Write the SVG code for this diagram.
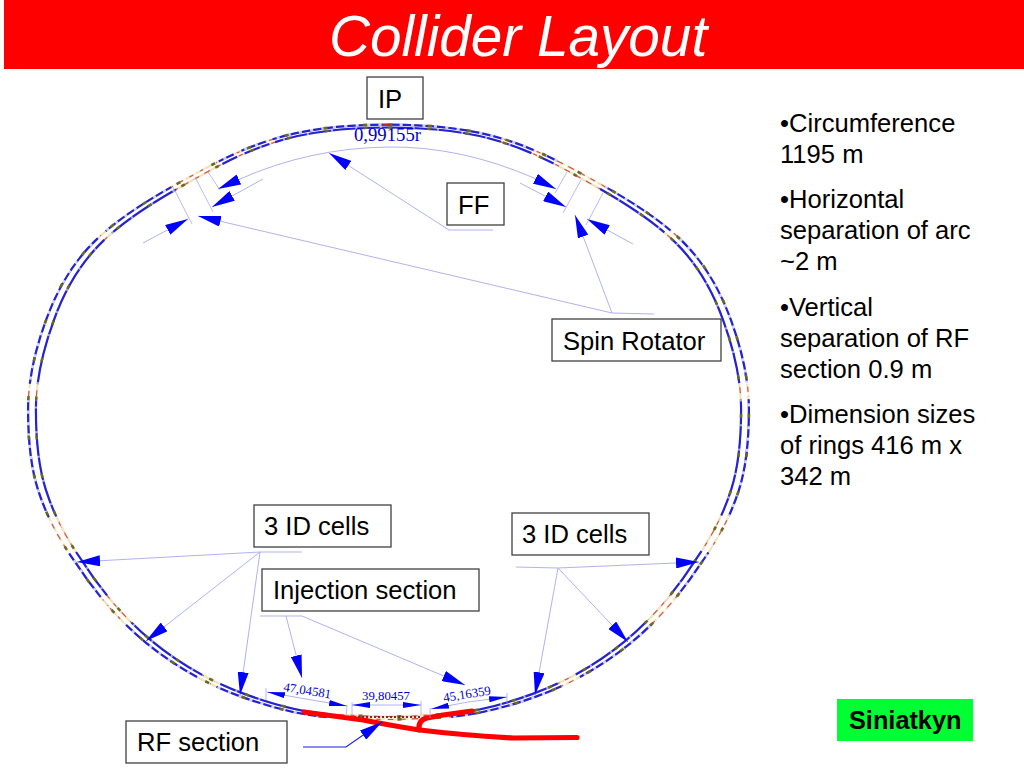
<svg xmlns="http://www.w3.org/2000/svg" xmlns:xlink="http://www.w3.org/1999/xlink" width="1024" height="768" viewBox="0 0 1024 768">
<style>
.box{fill:#fff;stroke:#404040;stroke-width:1.3}
.lbl{font-family:"Liberation Sans",Arial,sans-serif;font-size:25.6px;fill:#000}
.li{font-family:"Liberation Sans",Arial,sans-serif;font-size:25.6px;fill:#000}
.dim{font-family:"Liberation Serif","Times New Roman",serif;font-size:12.8px;fill:#0000cc}
.c{fill:none;stroke:#a8a8ee;stroke-width:.9}
.t{fill:none;stroke:#a8a8ee;stroke-width:.8}
.a{marker-end:url(#ah)}
.s{marker-end:url(#as)}
.base{fill:none;stroke:#ece6b8;stroke-width:2.2}
.red{fill:none;stroke:#d84a4a;stroke-width:1.1;stroke-dasharray:3 3}
.blue{fill:none;stroke:#2222d8;stroke-width:2.2;stroke-dasharray:56 3 13 4 8 26 38 5 79 8 58 20 26 18 43 10 55 60 55 10 43 18 26 20 58 8 79 5 38 26 8 4 13 3 56 0}
.dot{fill:none;stroke:#6a6a20;stroke-width:2.6;stroke-dasharray:2 17}
.dash{fill:none;stroke:#fff;stroke-width:2.6;stroke-dasharray:1.5 4;opacity:.8}
.dash2{fill:none;stroke:#fff;stroke-width:2.6;stroke-dasharray:1 11;opacity:.6}
</style>
<defs>
<marker id="ah" markerUnits="userSpaceOnUse" viewBox="0 0 23 11" refX="23" refY="5.5" markerWidth="23" markerHeight="11" orient="auto"><path d="M23 5.5 L0 0 L0 11Z" fill="#0000ff"/></marker>
<marker id="as" markerUnits="userSpaceOnUse" viewBox="0 0 18 6" refX="18" refY="3" markerWidth="18" markerHeight="6" orient="auto"><path d="M18 3 L0 0 L0 6Z" fill="#0000ff"/></marker>
<path id="ring" pathLength="1000" d="M388 126 C440 126 478 132 507 142 C535 151 560 164 583 177 C620 197 655 218 680 243 C705 268 718 295 727 320 C738 350 745 380 745 410 C745 440 743 465 735 490 C727 515 715 538 698 562 C680 590 655 620 628 642 C600 665 568 683 535 695 C505 706 470 715 440 716 C420 717 405 718 388 718 C370 718 355 717 335 716 C305 715 272 706 242 695 C209 683 177 665 149 642 C122 620 97 590 79 562 C62 538 50 515 42 490 C34 465 32 440 32 410 C32 380 39 350 50 320 C59 295 72 268 97 243 C122 218 157 197 194 177 C217 164 242 151 270 142 C299 132 337 126 388 126Z"/>
</defs>
<rect width="1024" height="768" fill="#fff"/>
<rect x="4" y="0" width="1020" height="69" fill="#ff0000"/>
<text x="329" y="55.5" font-family="Liberation Sans,Arial,sans-serif" font-size="56.7" font-style="italic" fill="#fff">Collider Layout</text>

<g id="ring-outer" transform="translate(388.5 422) scale(1.011 1.005) translate(-388.5 -422)">
<use xlink:href="#ring" href="#ring" class="base"/>
<use xlink:href="#ring" href="#ring" class="red"/>
<use xlink:href="#ring" href="#ring" class="blue"/>
<use xlink:href="#ring" href="#ring" class="dash"/>
<use xlink:href="#ring" href="#ring" class="dot"/>
</g>
<g id="ring-inner" transform="translate(388.5 422) scale(.989 .995) translate(-388.5 -422)">
<use xlink:href="#ring" href="#ring" class="base"/>
<use xlink:href="#ring" href="#ring" class="red"/>
<use xlink:href="#ring" href="#ring" class="blue"/>
<use xlink:href="#ring" href="#ring" class="dash2"/>
<use xlink:href="#ring" href="#ring" class="dot"/>
</g>
<rect x="383" y="124" width="8" height="2" fill="#cc2222"/>

<path d="M350 717 H421" fill="none" stroke="#8a2040" stroke-width="2" stroke-dasharray="2 2"/>
<g id="rf-track" fill="none" stroke="#ff0000" stroke-width="5.2" stroke-linecap="round" stroke-linejoin="round">
<path d="M304 712 L363 720 Q400 727 420 730 Q460 735 513 738 L577 737.5"/>
<path d="M472 711 L443 715 L427 718 Q418 720 419 730"/>
</g>

<g id="connectors">
<path class="c a" d="M493 230 H449 L329 153"/>
<path class="c" d="M240 179 Q310 148 388 147 Q460 146 534 178"/>
<path class="c a" d="M240 179 L218 189"/>
<path class="c a" d="M534 178 L556 189"/>
<path class="c a" d="M263 179 L212 207"/>
<path class="c a" d="M143 243 L188 219"/>
<path class="c a" d="M654 314 L612 313 L198 216"/>
<path class="c a" d="M612 313 L575 215"/>
<path class="c a" d="M520 183 L566 207"/>
<path class="c a" d="M633 244 L587 219"/>
<path class="t" d="M567 172 L555 193 M581 180 L563 213 M603 193 L586 225 M173 187 L192 224 M195 177 L213 212 M208 172 L220 190"/>
<path class="c a" d="M302 552 H260 L77 562"/>
<path class="c a" d="M260 552 L146 641"/>
<path class="c a" d="M260 552 L240 695"/>
<path class="c a" d="M260 616 H302 L465 685"/>
<path class="c a" d="M286 616 L302 678"/>
<path class="c a" d="M516 567 L558 568 L699 562"/>
<path class="c a" d="M558 568 L628 642"/>
<path class="c a" d="M558 568 L535 695"/>
<path d="M303 747 H346 L382 722" fill="none" stroke="#1a1ae0" stroke-width="1.1" marker-end="url(#ah)"/>
<path class="t" d="M266 688 V700 M347 705 L346 716 M352 702 V715 M421 701 V715 M430 708 V718 M507 693 V703"/>
<path class="c s" d="M300 698 L267 692"/>
<path class="c s" d="M300 698 L347 706"/>
<path class="c s" d="M386 705 H352"/>
<path class="c s" d="M386 705 H421"/>
<path class="c s" d="M468 702 L431 709"/>
<path class="c s" d="M468 702 L507 697"/>
</g>

<text x="354" y="141" font-family="Liberation Serif,Times New Roman,serif" font-size="18.7" fill="#0000cc">0,99155r</text>
<text class="dim" transform="translate(283 691) rotate(9)">47,04581</text>
<text class="dim" x="362" y="700">39,80457</text>
<text class="dim" transform="translate(444 702) rotate(-9)">45,16359</text>

<g id="ip"><rect class="box" x="367" y="77" width="56" height="42"/><text class="lbl" x="378" y="108">IP</text></g>
<g id="ff"><rect class="box" x="447" y="183" width="57" height="42"/><text class="lbl" x="458" y="214">FF</text></g>
<g id="spin-rotator"><rect class="box" x="552" y="319" width="169" height="42"/><text class="lbl" x="563" y="350">Spin Rotator</text></g>
<g id="id-cells-left"><rect class="box" x="254" y="505" width="137" height="42"/><text class="lbl" x="264" y="535">3 ID cells</text></g>
<g id="id-cells-right"><rect class="box" x="512" y="513" width="137" height="42"/><text class="lbl" x="522" y="543">3 ID cells</text></g>
<g id="injection"><rect class="box" x="262" y="569" width="217" height="42"/><text class="lbl" x="273" y="599">Injection section</text></g>
<g id="rf-section"><rect class="box" x="126" y="721" width="161" height="42"/><text class="lbl" x="137" y="751">RF section</text></g>

<g id="notes">
<text class="li" x="780" y="132">•Circumference</text>
<text class="li" x="780" y="163">1195 m</text>
<text class="li" x="780" y="208">•Horizontal</text>
<text class="li" x="780" y="239">separation of arc</text>
<text class="li" x="780" y="270">~2 m</text>
<text class="li" x="780" y="316">•Vertical</text>
<text class="li" x="780" y="347">separation of RF</text>
<text class="li" x="780" y="378">section 0.9 m</text>
<text class="li" x="780" y="423">•Dimension sizes</text>
<text class="li" x="780" y="454">of rings 416 m x</text>
<text class="li" x="780" y="485">342 m</text>
</g>
<g id="siniatkyn"><rect x="837" y="699" width="136" height="42" fill="#00ff33"/><text x="849" y="729" font-family="Liberation Sans,Arial,sans-serif" font-size="25.3" font-weight="bold" fill="#000">Siniatkyn</text></g>
</svg>
